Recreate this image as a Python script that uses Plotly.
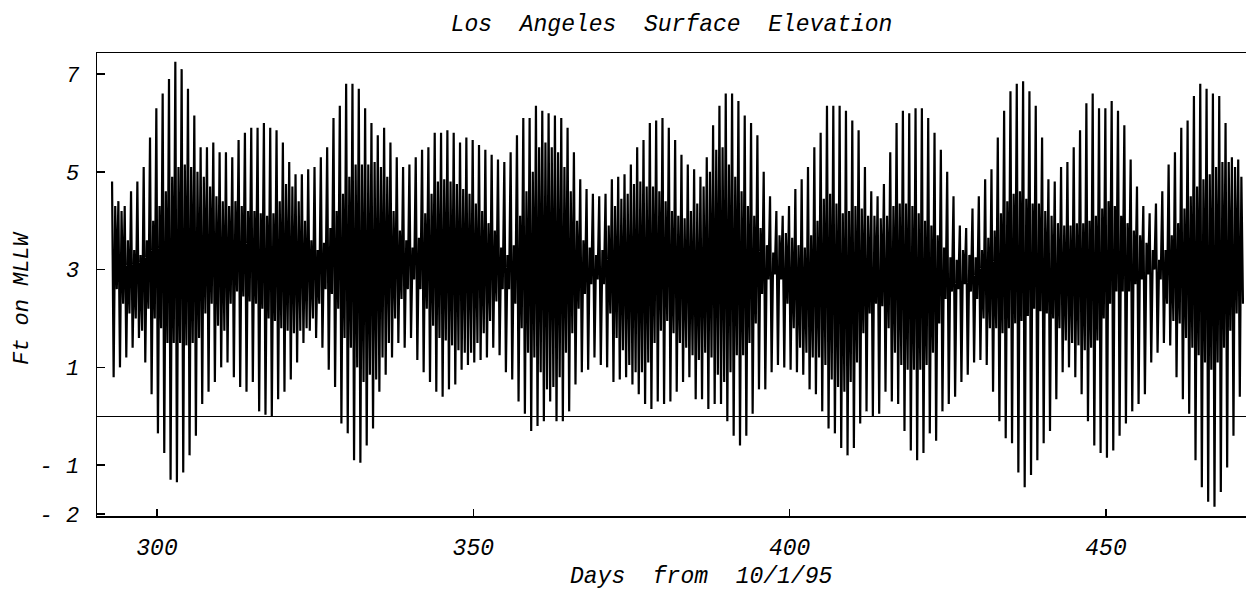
import plotly.graph_objects as go

# ---- data (feet on MLLW), one entry per day ----
first_day = 293

higher_high = [
    4.8, 4.4, 4.3, 4.6, 4.8, 5.1, 5.7, 6.3, 6.6, 6.9, 7.25, 7.1, 6.7, 6.15, 5.5, 5.5, 5.6, 5.4, 5.4, 5.3, 5.65,
    5.8, 5.9, 5.9, 6.0, 5.9, 5.85, 5.6, 5.2, 4.95, 4.95, 5.05, 5.1, 5.3, 5.5, 6.1, 6.35, 6.8, 6.8, 6.7, 6.3, 6.0, 5.75,
    5.9, 5.6, 5.3, 5.1, 5.15, 5.3, 5.45, 5.5, 5.8, 5.8, 5.85, 5.8, 5.6, 5.7, 5.65, 5.55, 5.45, 5.35, 5.25, 5.2, 5.4, 5.75, 6.1,
    6.1, 6.35, 6.25, 6.2, 6.15, 6.1, 5.9, 5.4, 4.85, 4.65, 4.55, 4.5, 4.55, 4.85, 4.9, 4.95, 5.15, 5.5, 5.65, 6.0, 6.05, 6.1,
    5.9, 5.65, 5.35, 5.15, 5.05, 4.9, 5.3, 5.95, 6.35, 6.6, 6.6, 6.45, 6.15, 6.0, 5.75, 5.0, 4.5, 4.2, 4.1, 4.3, 4.65, 4.85, 5.1,
    5.5, 5.8, 6.35, 6.35, 6.35, 6.25, 6.05, 5.85, 5.1, 4.6, 4.5, 4.75, 5.4, 6.0, 6.25, 6.2, 6.3, 6.3, 6.1, 5.8, 5.45, 5.0, 4.5,
    3.9, 3.85, 4.25, 4.5, 4.85, 5.05, 5.7, 6.25, 6.65, 6.8, 6.85, 6.65, 6.35, 5.7, 4.85, 4.8, 5.1, 5.2, 5.5, 5.85, 6.4, 6.6,
    6.3, 6.3, 6.45, 6.25, 5.95, 5.25, 4.7, 4.3, 4.15, 4.35, 4.6, 5.15, 5.4, 5.9, 6.05, 6.55, 6.8, 6.7, 6.6, 6.55, 6.0, 5.3, 5.25,
]

lower_low = [
    0.8, 1.0, 1.2, 1.4, 1.6, 1.1, 0.45, -0.35, -0.75, -1.3, -1.35, -1.15, -0.8, -0.4, 0.25, 0.5, 0.7, 1.0, 1.1, 0.8, 0.6,
    0.5, 0.7, 0.1, 0.03, 0.0, 0.35, 0.5, 0.75, 1.1, 1.5, 1.75, 1.6, 1.4, 0.95, 0.6, -0.15, -0.35, -0.9, -0.95, -0.6, -0.25, 0.5,
    0.85, 1.2, 1.5, 1.4, 1.6, 1.15, 0.9, 0.7, 0.5, 0.4, 0.55, 0.65, 0.95, 1.05, 1.1, 1.15, 1.2, 1.4, 1.25, 0.9, 0.75, 0.3, 0.05,
    -0.3, -0.2, -0.1, 0.3, -0.1, -0.1, 0.1, 0.65, 0.9, 0.95, 1.2, 1.05, 1.0, 0.7, 0.75, 0.8, 0.65, 0.45, 0.25, 0.15, 0.3, 0.25,
    0.3, 0.5, 0.7, 0.8, 0.35, 0.35, 0.15, 0.25, 0.25, -0.1, -0.4, -0.6, -0.4, 0.05, 0.55, 0.55, 0.9, 1.05, 1.0, 0.95, 0.9, 0.85, 0.55,
    0.45, 0.1, -0.25, -0.35, -0.65, -0.8, -0.65, -0.15, 0.1, 0.0, 0.05, 0.5, 0.3, 0.25, -0.3, -0.7, -0.9, -0.75, -0.35, -0.5, 0.1, 0.25, 0.4,
    0.7, 0.85, 1.1, 1.15, 1.05, 0.5, -0.1, -0.45, -0.55, -1.15, -1.45, -1.2, -0.9, -0.55, -0.3, 0.35, 0.9, 1.0, 0.8, 0.45, -0.1, -0.6,
    -0.75, -0.85, -0.7, -0.4, -0.15, 0.1, 0.25, 0.45, 1.1, 1.3, 1.5, 1.45, 0.8, 0.35, 0.05, -0.9, -1.45, -1.75, -1.85, -1.55, -1.05, -0.4, 0.4,
]

lower_high = [
    4.3, 4.2, 3.6, 3.4, 3.3, 3.6, 4.0, 4.3, 4.6, 4.9, 5.1, 5.15, 5.1, 5.0, 4.9, 4.7, 4.5, 4.4, 4.3, 4.4, 4.3,
    4.2, 4.2, 4.15, 4.1, 4.15, 4.4, 4.75, 4.7, 4.4, 4.0, 3.6, 3.4, 3.55, 3.85, 4.2, 4.55, 4.9, 5.15, 5.15, 5.15, 5.2, 5.1,
    4.9, 4.2, 3.8, 3.6, 3.45, 3.65, 4.15, 4.55, 4.8, 4.85, 4.8, 4.75, 4.65, 4.55, 4.35, 4.2, 3.95, 3.8, 3.45, 3.3, 3.5, 4.1, 4.6,
    5.0, 5.5, 5.6, 5.5, 5.4, 5.1, 4.6, 4.0, 3.6, 3.45, 3.3, 3.4, 3.9, 4.3, 4.45, 4.55, 4.75, 4.8, 4.7, 4.7, 4.6, 4.4,
    4.2, 4.1, 4.05, 4.2, 4.35, 4.7, 5.0, 5.45, 5.5, 5.15, 4.9, 4.6, 4.3, 4.1, 3.85, 3.5, 3.35, 3.7, 3.75, 3.65, 3.5, 3.45, 3.7,
    4.0, 4.45, 4.55, 4.35, 4.15, 4.2, 4.3, 4.25, 4.1, 4.1, 4.05, 4.1, 4.3, 4.35, 4.35, 4.3, 4.15, 4.0, 3.9, 3.7, 3.45, 3.25, 3.2,
    3.4, 3.3, 3.25, 3.4, 3.65, 3.8, 4.15, 4.4, 4.55, 4.6, 4.45, 4.35, 4.35, 4.2, 4.1, 3.95, 3.9, 3.9, 3.95, 3.95, 4.0, 4.1,
    4.25, 4.4, 4.3, 4.1, 3.95, 3.8, 3.7, 3.55, 3.4, 3.2, 3.4, 3.7, 3.95, 4.25, 4.5, 4.7, 4.85, 4.95, 5.1, 5.2, 5.2, 5.1, 4.9,
]

higher_low = [
    2.6, 2.3, 2.1, 2.0, 1.75, 2.2, 2.0, 1.8, 1.5, 1.5, 1.5, 1.45, 1.5, 1.6, 2.1, 2.3, 1.85, 1.75, 2.3, 2.55, 2.45,
    2.35, 2.3, 2.2, 2.0, 1.95, 1.8, 1.75, 1.7, 1.75, 1.8, 2.0, 2.3, 2.6, 2.5, 2.2, 1.6, 1.4, 1.0, 0.7, 0.85, 0.75, 1.2,
    1.5, 2.0, 2.4, 2.6, 2.8, 2.6, 2.2, 1.85, 1.6, 1.55, 1.45, 1.35, 1.3, 1.3, 1.5, 1.7, 1.95, 2.35, 2.6, 2.6, 2.3, 1.8, 1.3,
    1.2, 0.9, 0.55, 0.6, 0.8, 1.3, 1.7, 2.2, 2.5, 2.7, 2.8, 2.7, 2.1, 1.6, 1.35, 1.05, 0.9, 0.9, 1.1, 1.5, 1.75, 1.95,
    1.7, 1.5, 1.4, 1.25, 1.15, 1.3, 1.2, 0.85, 0.7, 0.9, 1.25, 1.25, 1.5, 1.9, 2.5, 2.8, 2.9, 2.8, 2.3, 1.8, 1.4, 1.3, 1.2,
    1.2, 1.05, 0.75, 0.6, 0.5, 0.7, 1.1, 1.7, 2.1, 2.3, 2.25, 1.8, 1.3, 1.05, 0.95, 0.95, 0.95, 1.05, 1.3, 1.9, 2.4, 2.55, 2.6,
    2.7, 2.55, 2.4, 2.0, 1.8, 1.8, 1.7, 1.8, 1.9, 1.95, 2.05, 2.2, 2.15, 2.1, 2.0, 1.8, 1.55, 1.5, 1.45, 1.35, 1.4, 1.55,
    2.0, 2.3, 2.55, 2.55, 2.55, 2.7, 2.8, 2.9, 3.0, 2.8, 2.3, 1.95, 1.9, 1.6, 1.4, 1.25, 1.1, 0.95, 1.1, 1.4, 1.75, 2.1, 2.3,
]

x_tick_vals = [300, 350, 400, 450]
x_tick_text = ["300", "350", "400", "450"]
y_tick_vals = [7, 5, 3, 1, -1, -2]
y_tick_text = ["7", "5", "3", "1", "- 1", "- 2"]

title_text = "Los\u00a0 Angeles\u00a0 Surface\u00a0 Elevation"
x_label = "Days\u00a0 from\u00a0 10/1/95"
y_label = "Ft on MLLW"

# ---- build the tide sequence: HH -> LL -> LH -> HL within each day ----
n = len(higher_high)
assert n == len(lower_low) == len(lower_high) == len(higher_low)
days = [first_day + i for i in range(n)]
phase = [-0.1, 0.15, 0.4, 0.65]
series = [higher_high, lower_low, lower_high, higher_low]

t, h = [], []
for i, d in enumerate(days):
    for off, s in zip(phase, series):
        t.append(d + off)
        h.append(s[i])

FONT = "Liberation Mono, Courier New, monospace"

fig = go.Figure()
fig.add_trace(go.Scatter(x=t, y=h, mode="lines",
                         line=dict(color="black", width=2.2),
                         showlegend=False, hoverinfo="skip"))

fig.update_layout(
    template="none",
    width=1246, height=593,
    margin=dict(l=97, r=0, t=53, b=77, autoexpand=False),
    paper_bgcolor="white", plot_bgcolor="white",
    font=dict(family=FONT, color="black"),
    title=dict(text=title_text, x=0.539, xanchor="center",
               y=1 - 23 / 593, yref="container", yanchor="middle", pad=dict(t=0, b=0),
               font=dict(family=FONT, size=23, color="black", style="italic")),
    xaxis=dict(range=[290.52, 472.13], tickvals=x_tick_vals, ticktext=x_tick_text,
               ticks="inside", ticklen=7, tickwidth=1.5, tickcolor="black",
               showline=True, linecolor="black", linewidth=1.5, mirror=True,
               showgrid=False, zeroline=False, ticklabelstandoff=10, automargin=False,
               tickfont=dict(family=FONT, size=23, color="black", style="italic")),
    yaxis=dict(range=[-2.04, 7.43], tickvals=y_tick_vals, ticktext=y_tick_text,
               ticks="inside", ticklen=8, tickwidth=1.5, tickcolor="black",
               showline=True, linecolor="black", linewidth=1.5, mirror=True,
               showgrid=False, zeroline=True, zerolinecolor="black", zerolinewidth=1.2,
               ticklabelstandoff=12, automargin=False,
               tickfont=dict(family=FONT, size=22, color="black", style="italic")),
    annotations=[
        dict(text=x_label, xref="paper", yref="paper", x=0.526, y=-(577 - 516) / 463,
             xanchor="center", yanchor="middle", showarrow=False,
             font=dict(family=FONT, size=23, color="black", style="italic")),
        dict(text=y_label, xref="paper", yref="paper", x=-(97 - 22) / 1149, y=(516 - 298) / 463,
             xanchor="center", yanchor="middle", showarrow=False, textangle=-90,
             font=dict(family=FONT, size=22, color="black", style="italic")),
    ],
)

fig.write_html("out.html",
               config={"displayModeBar": False, "staticPlot": True},
               post_script="document.body.style.margin='0';document.body.style.overflow='hidden';")
